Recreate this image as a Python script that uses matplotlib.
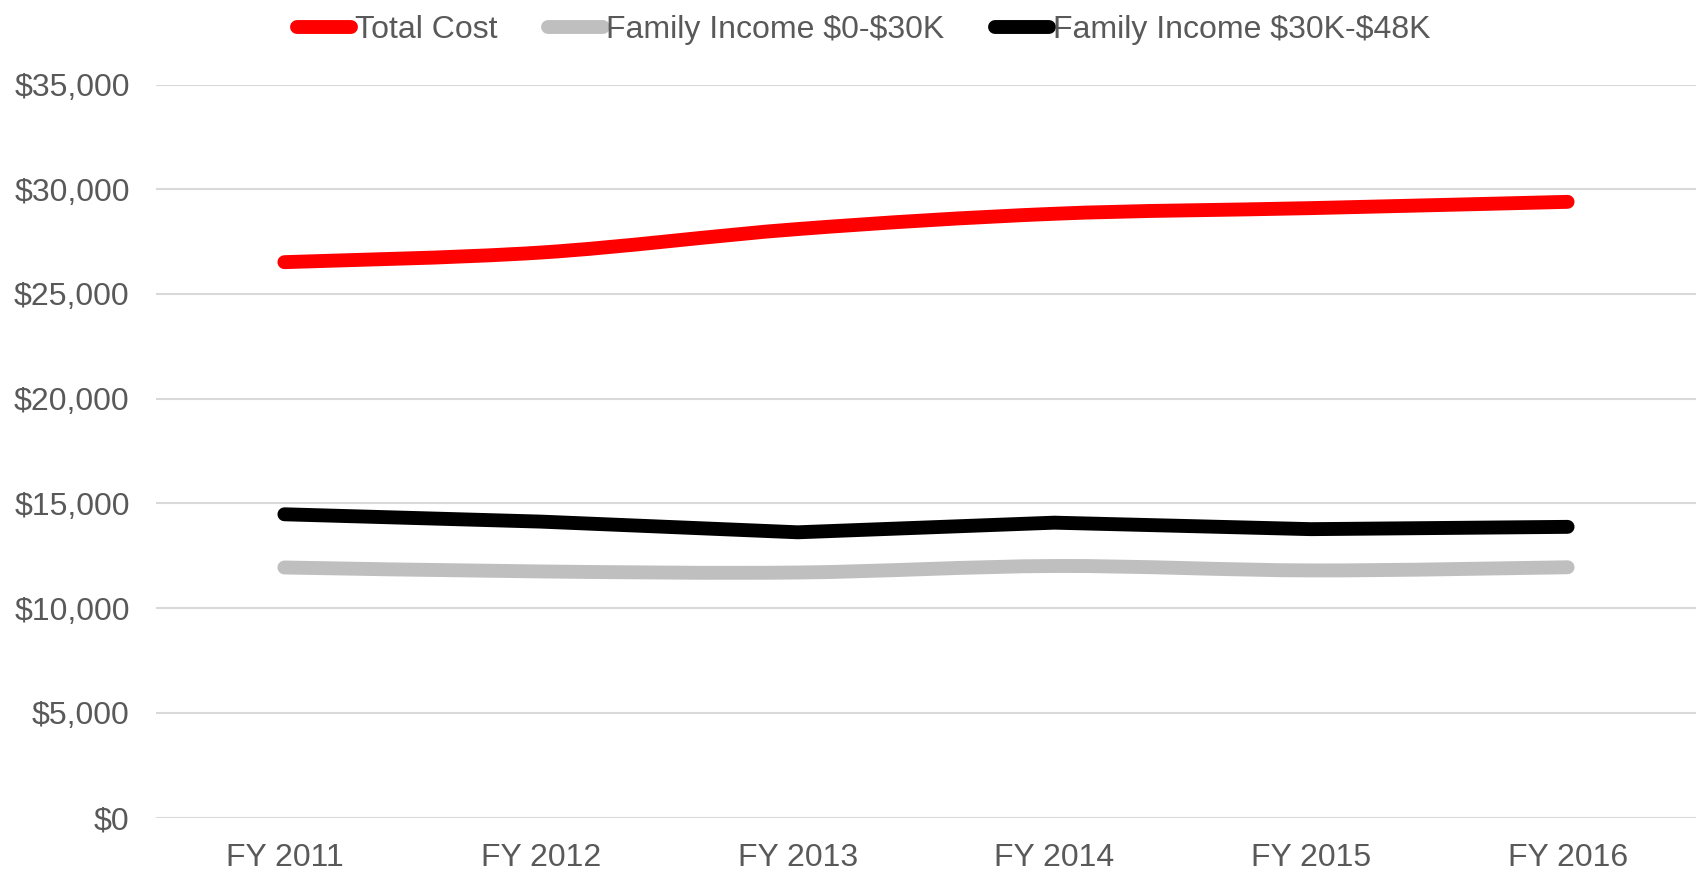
import matplotlib
matplotlib.use("Agg")
import matplotlib.pyplot as plt
from matplotlib.path import Path
from matplotlib.patches import PathPatch
from matplotlib.lines import Line2D
from matplotlib.ticker import FuncFormatter, MultipleLocator

categories = ["FY 2011", "FY 2012", "FY 2013", "FY 2014", "FY 2015", "FY 2016"]
total_cost = [26520, 26980, 28100, 28830, 29100, 29400]
income_0_30k = [11940, 11750, 11700, 12010, 11800, 11950]
income_30k_48k = [14480, 14130, 13620, 14080, 13770, 13880]

series_names = ["Total Cost", "Family Income \\$0-\\$30K", "Family Income \\$30K-\\$48K"]
colors = ["#FF0000", "#BFBFBF", "#000000"]
smooth = [True, True, False]

plt.rcParams['font.family'] = ['Liberation Sans', 'DejaVu Sans']

fig = plt.figure(figsize=(17, 8.8), dpi=100)
ax = fig.add_axes([0.0918, 0.071, 0.9058, 0.8329])

LW = 10


def smooth_path(xs, ys):
    n = len(xs)
    pts = list(zip(xs, ys))
    verts = [pts[0]]
    codes = [Path.MOVETO]
    for i in range(n - 1):
        p0 = pts[i - 1] if i > 0 else pts[i]
        p1 = pts[i]
        p2 = pts[i + 1]
        p3 = pts[i + 2] if i + 2 < n else pts[i + 1]
        c1 = (p1[0] + (p2[0] - p0[0]) / 6.0, p1[1] + (p2[1] - p0[1]) / 6.0)
        c2 = (p2[0] - (p3[0] - p1[0]) / 6.0, p2[1] - (p3[1] - p1[1]) / 6.0)
        verts += [c1, c2, p2]
        codes += [Path.CURVE4] * 3
    return Path(verts, codes)


x = list(range(len(categories)))
data = [total_cost, income_0_30k, income_30k_48k]
for vals, col, sm in zip(data, colors, smooth):
    if sm:
        patch = PathPatch(smooth_path(x, vals), facecolor='none', edgecolor=col,
                          linewidth=LW, capstyle='round', joinstyle='round', zorder=3)
        ax.add_patch(patch)
    else:
        ax.plot(x, vals, color=col, linewidth=LW, solid_capstyle='round',
                solid_joinstyle='round', zorder=3)

ax.set_xlim(-0.5, len(categories) - 0.5)
ax.set_ylim(0, 35000)
ax.yaxis.set_major_locator(MultipleLocator(5000))
ax.yaxis.set_major_formatter(FuncFormatter(lambda v, p: "\\${:,.0f}".format(v)))
ax.set_xticks(x)
ax.set_xticklabels(categories)

ax.grid(axis='y', color='#D9D9D9', linewidth=1.5, zorder=0)
ax.set_axisbelow(True)
for s in ax.spines.values():
    s.set_visible(False)
ax.tick_params(axis='both', length=0, labelsize=23, labelcolor='#595959')
ax.tick_params(axis='y', pad=19)
ax.tick_params(axis='x', pad=18)

handles = [Line2D([], [], color=c, linewidth=LW, solid_capstyle='round') for c in colors]
fig.legend(handles, series_names, loc='center', bbox_to_anchor=(0.508, 0.966),
           ncol=3, frameon=False, fontsize=23, labelcolor='#595959',
           handlelength=1.7, handletextpad=0.1, columnspacing=1.6)

fig.savefig("out.png", dpi=100)
